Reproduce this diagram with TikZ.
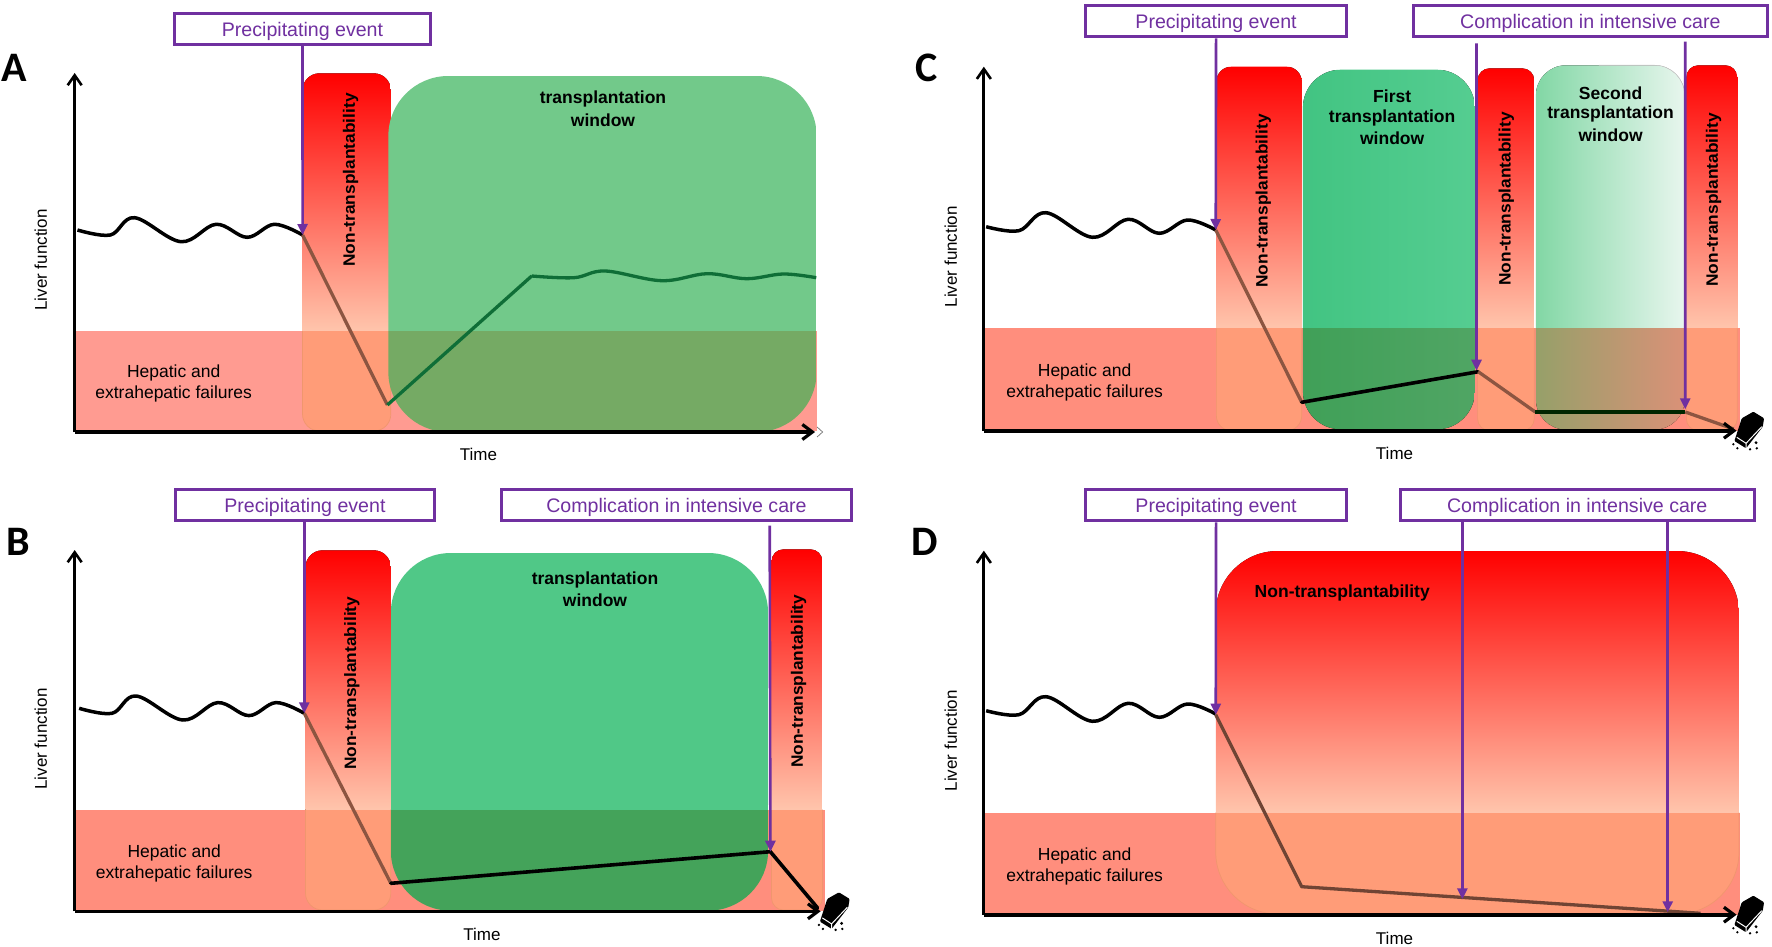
\documentclass[tikz,border=0pt]{standalone}
\usepackage{fontspec}
\setmainfont{Liberation Sans}
\newfontfamily\panelfont{Carlito}
\usetikzlibrary{arrows.meta}
\definecolor{evt}{RGB}{112,48,160}
\definecolor{bandA}{RGB}{255,155,145}
\definecolor{bandB}{RGB}{255,142,125}
\definecolor{lowpanel}{RGB}{255,156,120}
\definecolor{panelfade}{RGB}{255,197,172}
\definecolor{panelrim}{RGB}{240,150,110}
\definecolor{brownline}{RGB}{140,85,65}
\definecolor{greenline}{RGB}{15,110,55}
\definecolor{winAup}{RGB}{114,201,138}
\definecolor{winAlow}{RGB}{117,170,100}
\definecolor{winBup}{RGB}{80,200,135}
\definecolor{winBlow}{RGB}{68,163,90}
\definecolor{winCa}{RGB}{66,196,130}
\definecolor{winCb}{RGB}{85,205,145}
\definecolor{winCc}{RGB}{64,160,88}
\definecolor{winCd}{RGB}{80,165,100}
\definecolor{winDa}{RGB}{130,215,165}
\definecolor{winDb}{RGB}{232,246,238}
\definecolor{winDc}{RGB}{150,160,105}
\definecolor{winDd}{RGB}{218,145,120}
\newcommand{\fs}[1]{\fontsize{#1}{#1}\selectfont}
\newcommand{\ntxt}{\scalebox{1.05}[1]{Non-transplantability}}
\tikzset{
 evtbox/.style={draw=evt,line width=3.2pt,fill=white,minimum height=31pt,inner sep=0pt,text=evt,font=\fs{19.6},text height=15pt,text depth=0pt},
 evtarrow/.style={draw=evt,line width=2.6pt,-{Triangle[length=11pt,width=10pt]}},
 xaxisline/.style={line width=3.6pt,-{Straight Barb[length=10pt,width=15pt,line width=3.2pt]}},
 yaxisline/.style={line width=2.8pt,-{Straight Barb[length=10pt,width=14pt,line width=2.6pt]}},
 waveline/.style={line width=3.5pt,line join=round},
 dropline/.style={line width=3.3pt,draw=brownline,line join=round},
 blackline/.style={line width=3.6pt,line cap=round},
 plain/.style={inner sep=0pt,font=\fs{17.5},yshift=-1.5pt},
 strong/.style={inner sep=0pt,font=\fs{17.5}\bfseries,align=center},
 nontx/.style={inner sep=0pt,font=\fs{16.5}\bfseries,rotate=90},
 axislabel/.style={inner sep=0pt,font=\fs{17}},
 letter/.style={inner sep=0pt,font=\fs{42}\panelfont\bfseries},
 coffin/.pic={
  \fill[black,rounded corners=1pt] (15.3,-19)--(26,-12.4)--(24.7,-4)--(8,17.6)--(-3.7,10.3)--(3.7,-12.4)--cycle;
  \draw[white,line width=1pt] (23.7,-4)--(8,12.6)--(-1.3,6.6) (8,12.6)--(8,17.6);
  \fill[black] (-4.7,13.6) circle (1.3) (-0.7,17.6) circle (1.3) (12,18.6) circle (1.3) (18.7,17.6) circle (1.3) (18,12) circle (1.6);
 }
}
% x1 y1 x2 y2 bandtop radius
\newcommand{\redpanel}[6]{%
 \begin{scope}
  \clip[rounded corners=#6pt] (#1,#2) rectangle (#3,#4);
  \fill[top color=red,bottom color=panelfade] (#1,#2) rectangle (#3,#5);
  \fill[lowpanel] (#1,#5) rectangle (#3,#4);
 \end{scope}
 \draw[panelrim,line width=.7pt,rounded corners=#6pt] (#1,#5) -- (#1,#4) -- (#3,#4) -- (#3,#5);
}
% x1 y1 x2 y2 bandtop radius upper-paint lower-paint
\newcommand{\greenwin}[8]{%
 \begin{scope}
  \clip[rounded corners=#6pt] (#1,#2) rectangle (#3,#4);
  \fill[#7] (#1,#2) rectangle (#3,#5);
  \fill[#8] (#1,#5) rectangle (#3,#4);
 \end{scope}
}
\newcommand{\waveab}[2]{%
 \draw[waveline,shift={(#1,#2)}] plot[smooth,tension=.6] coordinates {(77.6,230)(110.5,235)(134.8,217.7)(181.3,241.7)(216.4,224.3)(247.6,237.3)(274.8,224.3)(303.1,235)};
}
\newcommand{\wavecd}[1]{%
 \draw[waveline,shift={(0,#1)}] plot[smooth,tension=.6] coordinates {(986.3,226.7)(1019.1,230.7)(1046.3,212.7)(1092.8,237.3)(1128.5,219.3)(1159.7,233.3)(1188,220)(1216.3,230)};
}
\begin{document}
\begin{tikzpicture}[x=1pt,y=-1pt]
\useasboundingbox (0,0) rectangle (1772,947);
\fill[white] (0,0) rectangle (1772,947);

\begin{scope}[xscale=.9983]
%%%%% A
\fill[bandA] (75,331) rectangle (818,431);
\redpanel{303}{73.3}{391.5}{431}{331}{17}
\greenwin{389}{76}{818}{432}{331}{60}{fill=winAup}{fill=winAlow}
\waveab{0}{0}
\coordinate (a0) at (303.1,235);
\coordinate (a1) at (388,405);
\coordinate (a2) at (532.6,276);
\draw[dropline] (a0)--(a1);
\draw[line width=3.3pt,greenline,line join=round] (a1)--(a2) plot[smooth,tension=.6] coordinates {(a2)(575,277.7)(606.2,271)(662.9,280.7)(708.2,273.7)(747.9,278.7)(784.7,274)(817.6,277.7)};
\node[evtbox,minimum width=256.5pt] (pa) at (303,28.7) {Precipitating event};
\draw[evtarrow] (pa.south) -- (a0);
\coordinate (oa) at (74.8,432);
\coordinate (ya) at (74.8,73);
\coordinate (xa) at (816.4,432);
\draw[black!55,line width=.7pt] (818.5,427) -- (824,432) -- (818.5,437);
\draw[yaxisline] (oa)--(ya);
\draw[xaxisline] (oa)--(xa);
\node[letter] (la) at (14,68) {A};
\node[axislabel,rotate=90] (ylabA) at (40.8,260) {Liver function};
\node[axislabel] (xlabA) at (479.3,454) {Time};
\node[plain] (hepA1) at (174,371.3) {Hepatic and};
\node[plain] (hepA2) at (174,392.3) {extrahepatic failures};
\node[strong] (twA1) at (604,99.3) {transplantation};
\node[strong] (twA2) at (604,120) {window};
\node[nontx] (ntA) at (351.3,180) {\ntxt};

%%%%% B
\fill[bandB] (75,809.7) rectangle (826,911);
\redpanel{306}{550.3}{391.5}{910}{809.7}{17}
\redpanel{772.8}{549.3}{823.8}{910}{809.7}{12}
\greenwin{391.5}{553}{769.4}{910.7}{809.7}{60}{fill=winBup}{fill=winBlow}
\waveab{1.7}{478.3}
\coordinate (b0) at (304.8,713.3);
\coordinate (b1) at (391.5,883.3);
\coordinate (b2) at (771.7,851.7);
\coordinate (b3) at (819,908);
\draw[dropline] (b0)--(b1);
\draw[blackline] (b1)--(b2)--(b3);
\node[evtbox,minimum width=258.8pt] (pb) at (305.4,505) {Precipitating event};
\node[evtbox,minimum width=350.5pt] (cb) at (677.6,505) {Complication in intensive care};
\draw[evtarrow] (b0 |- pb.south) -- (b0);
\coordinate (cbs) at (771,525.7);
\draw[evtarrow] (cbs) -- (b2);
\coordinate (ob) at (74.8,911.3);
\coordinate (yb) at (74.8,550);
\coordinate (xb) at (822,911.3);
\draw[yaxisline] (ob)--(yb);
\draw[xaxisline] (ob)--(xb);
\pic at (825,911.3) {coffin};
\node[letter] (lb) at (18,542) {B};
\node[axislabel,rotate=90] (ylabB) at (40.8,739) {Liver function};
\node[axislabel] (xlabB) at (482.7,934.7) {Time};
\node[plain] (hepB1) at (174.5,851.7) {Hepatic and};
\node[plain] (hepB2) at (174.5,872.3) {extrahepatic failures};
\node[strong] (twB1) at (596,579.7) {transplantation};
\node[strong] (twB2) at (596,600) {window};
\node[nontx] (ntB1) at (352.4,683.3) {\ntxt};
\node[nontx] (ntB2) at (800,681.3) {\ntxt};
\end{scope}

\begin{scope}[xshift=1.506pt,xscale=.9983]
%%%%% C
\fill[bandB] (985,328) rectangle (1741,430.7);
\redpanel{1216.9}{66.7}{1302.4}{430.7}{328}{15}
\redpanel{1478.6}{68.3}{1535.3}{430.7}{328}{12}
\redpanel{1687.7}{65.3}{1738.7}{430.7}{328}{12}
\greenwin{1303.6}{69.7}{1475.8}{429.3}{328}{38}{left color=winCa,right color=winCb}{left color=winCc,right color=winCd}
\greenwin{1537}{65.3}{1686}{429.5}{328}{30}{left color=winDa,right color=winDb}{left color=winDc,right color=winDd}
\draw[black!20,line width=.6pt,rounded corners=30pt] (1600,65.3) -- (1686,65.3) -- (1686,140);
\wavecd{0}
\coordinate (c0) at (1216.3,230);
\coordinate (c1) at (1302.4,402.3);
\coordinate (c2) at (1479.2,371.7);
\coordinate (c3) at (1536.4,412);
\coordinate (c4) at (1686.6,412);
\coordinate (c5) at (1735,429);
\draw[dropline] (c0)--(c1);
\draw[blackline] (c1)--(c2);
\draw[dropline] (c2)--(c3);
\draw[line width=3.2pt,black!85!green] (c3)--(c4);
\draw[dropline] (c4)--(c5);
\node[evtbox,minimum width=260.4pt] (pc) at (1216.6,21.3) {Precipitating event};
\node[evtbox,minimum width=354.5pt] (cc) at (1591.6,21.3) {Complication in intensive care};
\draw[evtarrow] (pc.south) -- (c0);
\coordinate (cc1) at (1477.5,43.3);
\coordinate (cc2) at (1686.6,41.7);
\draw[evtarrow] (cc1) -- (1477.5,370.7);
\draw[evtarrow] (cc2) -- (1686.6,409.3);
\coordinate (oc) at (984,430.7);
\coordinate (yc) at (984,66.7);
\coordinate (xc) at (1738,430.7);
\draw[yaxisline] (oc)--(yc);
\draw[xaxisline] (oc)--(xc);
\pic at (1739.5,430.7) {coffin};
\node[letter] (lc) at (926.8,68) {C};
\node[axislabel,rotate=90] (ylabC) at (951,256.7) {Liver function};
\node[axislabel] (xlabC) at (1395.4,453.7) {Time};
\node[plain] (hepC1) at (1084.9,370) {Hepatic and};
\node[plain] (hepC2) at (1084.9,391) {extrahepatic failures};
\node[strong] (twC1) at (1393,96.7) {First};
\node[strong] (twC2) at (1393,117.7) {transplantation};
\node[strong] (twC3) at (1393,138.3) {window};
\node[strong] (twC4) at (1611.8,93) {Second};
\node[strong] (twC5) at (1611.8,114.3) {transplantation};
\node[strong] (twC6) at (1611.8,135) {window};
\node[nontx] (ntC1) at (1264,201) {\ntxt};
\node[nontx] (ntC2) at (1507.5,199) {\ntxt};
\node[nontx] (ntC3) at (1715,200) {\ntxt};

%%%%% D
\fill[bandB] (985,812.7) rectangle (1741,914.7);
\redpanel{1216.3}{551}{1740.4}{914}{812.7}{62}
\wavecd{484}
\coordinate (d0) at (1216.3,714.7);
\coordinate (d1) at (1302.4,886.7);
\coordinate (d2) at (1701.9,913.3);
\coordinate (d3) at (1463.3,899.3);
\coordinate (d4) at (1669,912.3);
\draw[dropline,draw=brownline!80!black] (d0)--(d1)--(d2);
\node[evtbox,minimum width=260.4pt] (pd) at (1216.6,505.2) {Precipitating event};
\node[evtbox,minimum width=353.9pt] (cd) at (1578.4,505.2) {Complication in intensive care};
\draw[evtarrow] (pd.south) -- (d0);
\draw[evtarrow] (d3 |- cd.south) -- (d3);
\draw[evtarrow] (d4 |- cd.south) -- (d4);
\coordinate (od) at (984,914.7);
\coordinate (yd) at (984,550.7);
\coordinate (xd) at (1738,914.7);
\draw[yaxisline] (od)--(yd);
\draw[xaxisline] (od)--(xd);
\pic at (1739.5,914.7) {coffin};
\node[letter] (ld) at (924.5,542) {D};
\node[axislabel,rotate=90] (ylabD) at (951,740.7) {Liver function};
\node[axislabel] (xlabD) at (1395.4,938) {Time};
\node[plain] (hepD1) at (1084.9,854.7) {Hepatic and};
\node[plain] (hepD2) at (1084.9,875.7) {extrahepatic failures};
\node[strong] (ntD) at (1343,593) {Non-transplantability};
\end{scope}
\end{tikzpicture}
\end{document}
